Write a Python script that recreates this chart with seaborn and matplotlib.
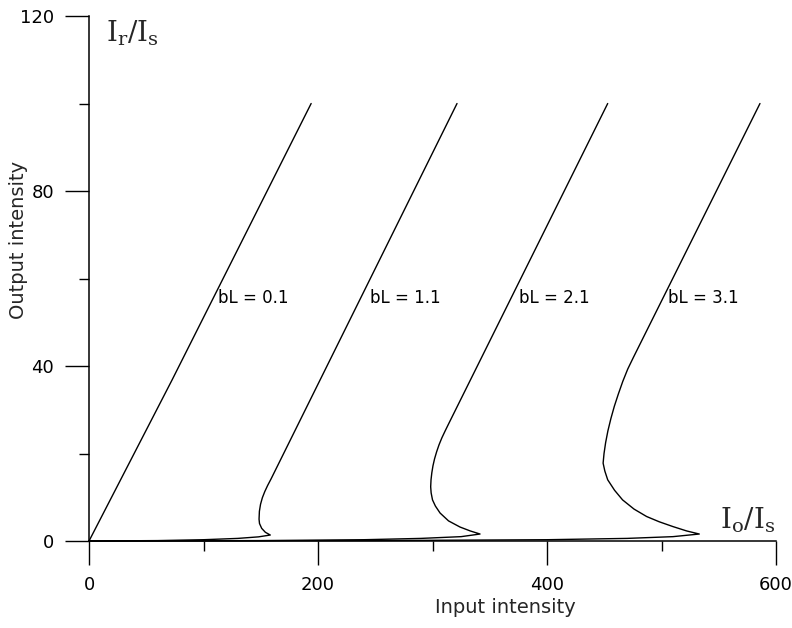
import matplotlib
matplotlib.use("Agg")
import matplotlib.pyplot as plt
import seaborn as sns

# curves (input intensity I0/Is, output intensity Ir/Is)
x_bl01 = [0, 72.5, 194]
y_bl01 = [0, 36.8, 100]

x_bl11 = [0, 60, 100, 130, 148, 158.3, 154, 150.8, 148.9, 148.5, 148.8, 149.8,
          151.4, 153.5, 156, 159, 321.4]
y_bl11 = [0, 0.1, 0.3, 0.6, 0.95, 1.37, 2.0, 2.9, 4.0, 5.0, 6.8, 8.4,
          9.9, 11.3, 12.7, 14.2, 100]

x_bl21 = [0, 150, 240, 290, 325, 341.5, 333, 324, 314, 306.6, 302.5, 300, 298.8,
          298.4, 298.7, 299.4, 300.4, 301.8, 303.6, 305.7, 308.2, 311.1, 314.1, 453]
y_bl21 = [0, 0.1, 0.3, 0.6, 1.0, 1.6, 2.3, 3.2, 4.6, 6.4, 8.0, 9.4, 11,
          12.4, 14, 15.6, 17.2, 18.8, 20.4, 22, 23.6, 25.2, 26.8, 100]

x_bl31 = [0, 250, 400, 470, 510, 533, 522, 510, 498, 487, 476, 466, 459, 453,
          450.5, 449, 449.8, 451.2, 453.2, 455.8, 458.8, 462.3, 466.2, 470.5,
          475.5, 586]
y_bl31 = [0, 0.1, 0.3, 0.6, 1.0, 1.6, 2.3, 3.3, 4.4, 5.6, 7.3, 9.4, 11.6, 14,
          16, 17.8, 20, 22.5, 25.2, 28, 30.8, 33.6, 36.5, 39.3,
          42, 100]

labels = ["bL = 0.1", "bL = 1.1", "bL = 2.1", "bL = 3.1"]
label_x = [113, 245.5, 375.5, 506]
label_y = 55.5

sns.set_style("ticks")
plt.rcParams["mathtext.fontset"] = "dejavuserif"

fig = plt.figure(figsize=(7.92, 6.28), dpi=100)
ax = fig.add_axes([0.1124, 0.1385, 0.8674, 0.836])

for xs, ys in [(x_bl01, y_bl01), (x_bl11, y_bl11), (x_bl21, y_bl21), (x_bl31, y_bl31)]:
    sns.lineplot(x=xs, y=ys, sort=False, estimator=None, color="black",
                 linewidth=1.0, ax=ax, clip_on=False)

for lab, lx in zip(labels, label_x):
    ax.text(lx, label_y, lab, ha="left", va="center", fontsize=12, color="black")

ax.text(15, 116, r"$\mathrm{I_r/I_s}$", fontsize=20, ha="left", va="center")
ax.text(599, 4.8, r"$\mathrm{I_o/I_s}$", fontsize=20, ha="right", va="center")

ax.set_xlim(0, 600)
ax.set_ylim(0, 120)
ax.set_xticks([0, 200, 400, 600])
ax.set_xticks([100, 300, 500], minor=True)
ax.set_yticks([0, 40, 80, 120])
ax.set_yticks([20, 60, 100], minor=True)
ax.tick_params(which="major", direction="out", length=17, width=1.0, labelsize=13,
               pad=8, color="black", labelcolor="black")
ax.tick_params(which="minor", direction="out", length=7, width=1.0, color="black")
for s in ["top", "right"]:
    ax.spines[s].set_visible(False)
for s in ["left", "bottom"]:
    ax.spines[s].set_linewidth(1.1)
    ax.spines[s].set_color("black")
ax.set_xlabel("")
ax.set_ylabel("")

fig.text(0.638, 0.033, "Input intensity", ha="center", va="center", fontsize=14)
fig.text(0.023, 0.618, "Output intensity", ha="center", va="center", fontsize=14, rotation=90)

fig.savefig("out.png", dpi=100)
